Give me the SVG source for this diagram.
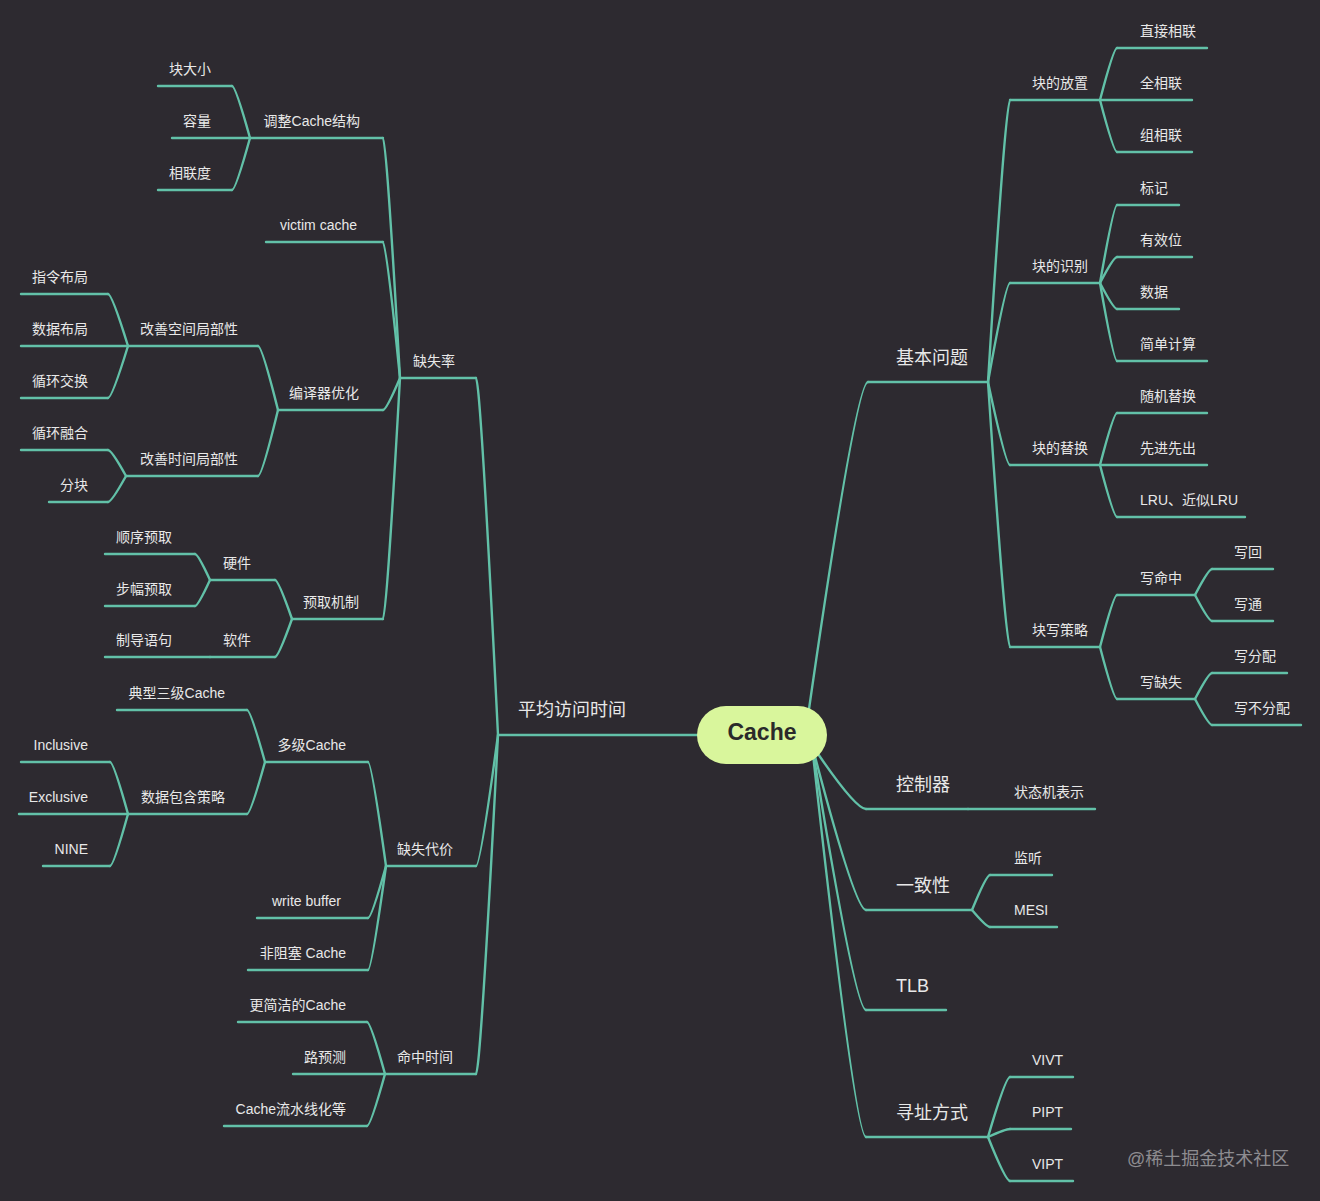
<svg xmlns="http://www.w3.org/2000/svg" width="1320" height="1201" viewBox="0 0 1320 1201">
<style>
.bg{fill:#2d2a30}
.c{fill:none;stroke:#62c1a8;stroke-width:2.4;stroke-linecap:round}
.u{stroke:#62c1a8;stroke-width:2.4;stroke-linecap:round}
text{font-family:"Liberation Sans","Noto Sans CJK SC",sans-serif;fill:#e8e8e8;font-size:14px}
.l1{font-size:18px}
.e{text-anchor:end}
.wm{font-size:18px;fill:#8d8c90}
.root{font-size:23px;font-weight:bold;fill:#2a2a2a;text-anchor:middle}
</style>
<rect class="bg" x="0" y="0" width="1320" height="1201"/>
<g id="connectors">
<path class="c" d="M808,716 Q856,382 868,382"/>
<path class="c" d="M812,745 Q855,809 866,809"/>
<path class="c" d="M812,745 Q855,910 866,910"/>
<path class="c" d="M812,745 Q855,1010 866,1010"/>
<path class="c" d="M812,745 Q855,1137 866,1137"/>
<path class="c" d="M988,382 Q1005.6,100 1010,100"/>
<path class="c" d="M988,382 Q1005.6,283 1010,283"/>
<path class="c" d="M988,382 Q1005.6,465 1010,465"/>
<path class="c" d="M988,382 Q1005.6,647 1010,647"/>
<path class="c" d="M1100,100 Q1113.6,48 1117,48"/>
<path class="c" d="M1100,100 Q1113.6,152 1117,152"/>
<path class="c" d="M1100,283 Q1113.6,205 1117,205"/>
<path class="c" d="M1100,283 Q1113.6,257 1117,257"/>
<path class="c" d="M1100,283 Q1113.6,309 1117,309"/>
<path class="c" d="M1100,283 Q1113.6,361 1117,361"/>
<path class="c" d="M1100,465 Q1113.6,413 1117,413"/>
<path class="c" d="M1100,465 Q1113.6,517 1117,517"/>
<path class="c" d="M1100,647 Q1113.6,595 1117,595"/>
<path class="c" d="M1100,647 Q1113.6,699 1117,699"/>
<path class="c" d="M1195,595 Q1208.6,569 1212,569"/>
<path class="c" d="M1195,595 Q1208.6,621 1212,621"/>
<path class="c" d="M1195,699 Q1208.6,673 1212,673"/>
<path class="c" d="M1195,699 Q1208.6,725 1212,725"/>
<path class="c" d="M972,910 Q986.4,875 990,875"/>
<path class="c" d="M972,910 Q986.4,927 990,927"/>
<path class="c" d="M988,1137 Q1005.6,1077 1010,1077"/>
<path class="c" d="M988,1137 Q1005.6,1129 1010,1129"/>
<path class="c" d="M988,1137 Q1005.6,1181 1010,1181"/>
<path class="c" d="M498,735 Q480.4,378 476,378"/>
<path class="c" d="M498,735 Q480.4,866 476,866"/>
<path class="c" d="M498,735 Q480.4,1074 476,1074"/>
<path class="c" d="M400,378 Q386.4,138 383,138"/>
<path class="c" d="M400,378 Q386.4,242 383,242"/>
<path class="c" d="M400,378 Q386.4,410 383,410"/>
<path class="c" d="M400,378 Q386.4,619 383,619"/>
<path class="c" d="M386,866 Q371.6,762 368,762"/>
<path class="c" d="M386,866 Q371.6,918 368,918"/>
<path class="c" d="M386,866 Q371.6,970 368,970"/>
<path class="c" d="M385,1074 Q370.6,1022 367,1022"/>
<path class="c" d="M385,1074 Q370.6,1126 367,1126"/>
<path class="c" d="M250,138 Q235.6,86 232,86"/>
<path class="c" d="M250,138 Q235.6,190 232,190"/>
<path class="c" d="M278,410 Q262,346 258,346"/>
<path class="c" d="M278,410 Q262,476 258,476"/>
<path class="c" d="M128,346 Q112,294 108,294"/>
<path class="c" d="M128,346 Q112,398 108,398"/>
<path class="c" d="M126,476 Q111.6,450 108,450"/>
<path class="c" d="M126,476 Q111.6,502 108,502"/>
<path class="c" d="M292,619 Q278.4,580 275,580"/>
<path class="c" d="M292,619 Q278.4,657 275,657"/>
<path class="c" d="M210,580 Q198,554 195,554"/>
<path class="c" d="M210,580 Q198,606 195,606"/>
<path class="c" d="M265,762 Q250.6,710 247,710"/>
<path class="c" d="M265,762 Q250.6,814 247,814"/>
<path class="c" d="M128,814 Q113.6,762 110,762"/>
<path class="c" d="M128,814 Q113.6,866 110,866"/>
</g>
<g id="node-avg"><line class="u" x1="498" y1="735" x2="700" y2="735"/><text class="l1" x="518" y="716">平均访问时间</text></g>
<g id="node-root"><rect x="697" y="706" width="130" height="58" rx="29" fill="#d9f69c"/><text class="root" x="762" y="740">Cache</text></g>
<g id="node-basic"><line class="u" x1="868" y1="382" x2="988" y2="382"/><text class="l1" x="896" y="364">基本问题</text></g>
<g id="node-place"><line class="u" x1="1010" y1="100" x2="1100" y2="100"/><text x="1032" y="88">块的放置</text></g>
<g id="node-direct"><line class="u" x1="1117" y1="48" x2="1207" y2="48"/><text x="1140" y="36">直接相联</text></g>
<g id="node-full"><line class="u" x1="1100" y1="100" x2="1192" y2="100"/><text x="1140" y="88">全相联</text></g>
<g id="node-set"><line class="u" x1="1117" y1="152" x2="1192" y2="152"/><text x="1140" y="140">组相联</text></g>
<g id="node-ident"><line class="u" x1="1010" y1="283" x2="1100" y2="283"/><text x="1032" y="271">块的识别</text></g>
<g id="node-tag"><line class="u" x1="1117" y1="205" x2="1179" y2="205"/><text x="1140" y="193">标记</text></g>
<g id="node-valid"><line class="u" x1="1117" y1="257" x2="1192" y2="257"/><text x="1140" y="245">有效位</text></g>
<g id="node-data"><line class="u" x1="1117" y1="309" x2="1179" y2="309"/><text x="1140" y="297">数据</text></g>
<g id="node-calc"><line class="u" x1="1117" y1="361" x2="1207" y2="361"/><text x="1140" y="349">简单计算</text></g>
<g id="node-repl"><line class="u" x1="1010" y1="465" x2="1100" y2="465"/><text x="1032" y="453">块的替换</text></g>
<g id="node-rand"><line class="u" x1="1117" y1="413" x2="1207" y2="413"/><text x="1140" y="401">随机替换</text></g>
<g id="node-fifo"><line class="u" x1="1100" y1="465" x2="1207" y2="465"/><text x="1140" y="453">先进先出</text></g>
<g id="node-lru"><line class="u" x1="1117" y1="517" x2="1245" y2="517"/><text x="1140" y="505">LRU、近似LRU</text></g>
<g id="node-write"><line class="u" x1="1010" y1="647" x2="1100" y2="647"/><text x="1032" y="635">块写策略</text></g>
<g id="node-hit"><line class="u" x1="1117" y1="595" x2="1195" y2="595"/><text x="1140" y="583">写命中</text></g>
<g id="node-wb"><line class="u" x1="1212" y1="569" x2="1273" y2="569"/><text x="1234" y="557">写回</text></g>
<g id="node-wt"><line class="u" x1="1212" y1="621" x2="1273" y2="621"/><text x="1234" y="609">写通</text></g>
<g id="node-miss"><line class="u" x1="1117" y1="699" x2="1195" y2="699"/><text x="1140" y="687">写缺失</text></g>
<g id="node-wa"><line class="u" x1="1212" y1="673" x2="1287" y2="673"/><text x="1234" y="661">写分配</text></g>
<g id="node-wna"><line class="u" x1="1212" y1="725" x2="1301" y2="725"/><text x="1234" y="713">写不分配</text></g>
<g id="node-ctrl"><line class="u" x1="866" y1="809" x2="968" y2="809"/><text class="l1" x="896" y="791">控制器</text></g>
<g id="node-fsm"><line class="u" x1="968" y1="809" x2="1095" y2="809"/><text x="1014" y="797">状态机表示</text></g>
<g id="node-coh"><line class="u" x1="866" y1="910" x2="972" y2="910"/><text class="l1" x="896" y="892">一致性</text></g>
<g id="node-snoop"><line class="u" x1="990" y1="875" x2="1052" y2="875"/><text x="1014" y="863">监听</text></g>
<g id="node-mesi"><line class="u" x1="990" y1="927" x2="1057" y2="927"/><text x="1014" y="915">MESI</text></g>
<g id="node-tlb"><line class="u" x1="866" y1="1010" x2="946" y2="1010"/><text class="l1" x="896" y="992">TLB</text></g>
<g id="node-addr"><line class="u" x1="866" y1="1137" x2="988" y2="1137"/><text class="l1" x="896" y="1119">寻址方式</text></g>
<g id="node-vivt"><line class="u" x1="1010" y1="1077" x2="1073" y2="1077"/><text x="1032" y="1065">VIVT</text></g>
<g id="node-pipt"><line class="u" x1="1010" y1="1129" x2="1071" y2="1129"/><text x="1032" y="1117">PIPT</text></g>
<g id="node-vipt"><line class="u" x1="1010" y1="1181" x2="1073" y2="1181"/><text x="1032" y="1169">VIPT</text></g>
<g id="node-missrate"><line class="u" x1="400" y1="378" x2="476" y2="378"/><text class="e" x="455" y="366">缺失率</text></g>
<g id="node-adjust"><line class="u" x1="250" y1="138" x2="383" y2="138"/><text class="e" x="360" y="126">调整Cache结构</text></g>
<g id="node-bsize"><line class="u" x1="158" y1="86" x2="232" y2="86"/><text class="e" x="211" y="74">块大小</text></g>
<g id="node-cap"><line class="u" x1="172" y1="138" x2="250" y2="138"/><text class="e" x="211" y="126">容量</text></g>
<g id="node-assoc"><line class="u" x1="158" y1="190" x2="232" y2="190"/><text class="e" x="211" y="178">相联度</text></g>
<g id="node-victim"><line class="u" x1="266" y1="242" x2="383" y2="242"/><text class="e" x="357" y="230">victim cache</text></g>
<g id="node-compiler"><line class="u" x1="278" y1="410" x2="383" y2="410"/><text class="e" x="359" y="398">编译器优化</text></g>
<g id="node-spatial"><line class="u" x1="128" y1="346" x2="258" y2="346"/><text class="e" x="238" y="334">改善空间局部性</text></g>
<g id="node-instr"><line class="u" x1="21" y1="294" x2="108" y2="294"/><text class="e" x="88" y="282">指令布局</text></g>
<g id="node-dlayout"><line class="u" x1="21" y1="346" x2="128" y2="346"/><text class="e" x="88" y="334">数据布局</text></g>
<g id="node-interchange"><line class="u" x1="21" y1="398" x2="108" y2="398"/><text class="e" x="88" y="386">循环交换</text></g>
<g id="node-temporal"><line class="u" x1="126" y1="476" x2="258" y2="476"/><text class="e" x="238" y="464">改善时间局部性</text></g>
<g id="node-fusion"><line class="u" x1="21" y1="450" x2="108" y2="450"/><text class="e" x="88" y="438">循环融合</text></g>
<g id="node-block"><line class="u" x1="49" y1="502" x2="108" y2="502"/><text class="e" x="88" y="490">分块</text></g>
<g id="node-prefetch"><line class="u" x1="292" y1="619" x2="383" y2="619"/><text class="e" x="359" y="607">预取机制</text></g>
<g id="node-hw"><line class="u" x1="210" y1="580" x2="275" y2="580"/><text class="e" x="251" y="568">硬件</text></g>
<g id="node-seq"><line class="u" x1="105" y1="554" x2="195" y2="554"/><text class="e" x="172" y="542">顺序预取</text></g>
<g id="node-stride"><line class="u" x1="105" y1="606" x2="195" y2="606"/><text class="e" x="172" y="594">步幅预取</text></g>
<g id="node-sw"><line class="u" x1="210" y1="657" x2="275" y2="657"/><text class="e" x="251" y="645">软件</text></g>
<g id="node-directive"><line class="u" x1="105" y1="657" x2="210" y2="657"/><text class="e" x="172" y="645">制导语句</text></g>
<g id="node-penalty"><line class="u" x1="386" y1="866" x2="476" y2="866"/><text class="e" x="453" y="854">缺失代价</text></g>
<g id="node-multi"><line class="u" x1="265" y1="762" x2="368" y2="762"/><text class="e" x="346" y="750">多级Cache</text></g>
<g id="node-l3"><line class="u" x1="117" y1="710" x2="247" y2="710"/><text class="e" x="225" y="698">典型三级Cache</text></g>
<g id="node-incl"><line class="u" x1="128" y1="814" x2="247" y2="814"/><text class="e" x="225" y="802">数据包含策略</text></g>
<g id="node-inclusive"><line class="u" x1="21" y1="762" x2="110" y2="762"/><text class="e" x="88" y="750">Inclusive</text></g>
<g id="node-exclusive"><line class="u" x1="19" y1="814" x2="128" y2="814"/><text class="e" x="88" y="802">Exclusive</text></g>
<g id="node-nine"><line class="u" x1="43" y1="866" x2="110" y2="866"/><text class="e" x="88" y="854">NINE</text></g>
<g id="node-wbuf"><line class="u" x1="257" y1="918" x2="368" y2="918"/><text class="e" x="341" y="906">write buffer</text></g>
<g id="node-nonblock"><line class="u" x1="248" y1="970" x2="368" y2="970"/><text class="e" x="346" y="958">非阻塞 Cache</text></g>
<g id="node-hittime"><line class="u" x1="385" y1="1074" x2="476" y2="1074"/><text class="e" x="453" y="1062">命中时间</text></g>
<g id="node-simple"><line class="u" x1="238" y1="1022" x2="367" y2="1022"/><text class="e" x="346" y="1010">更简洁的Cache</text></g>
<g id="node-waypred"><line class="u" x1="293" y1="1074" x2="385" y2="1074"/><text class="e" x="346" y="1062">路预测</text></g>
<g id="node-pipe"><line class="u" x1="224" y1="1126" x2="367" y2="1126"/><text class="e" x="346" y="1114">Cache流水线化等</text></g>
<text class="wm" x="1127" y="1165">@稀土掘金技术社区</text>
</svg>
